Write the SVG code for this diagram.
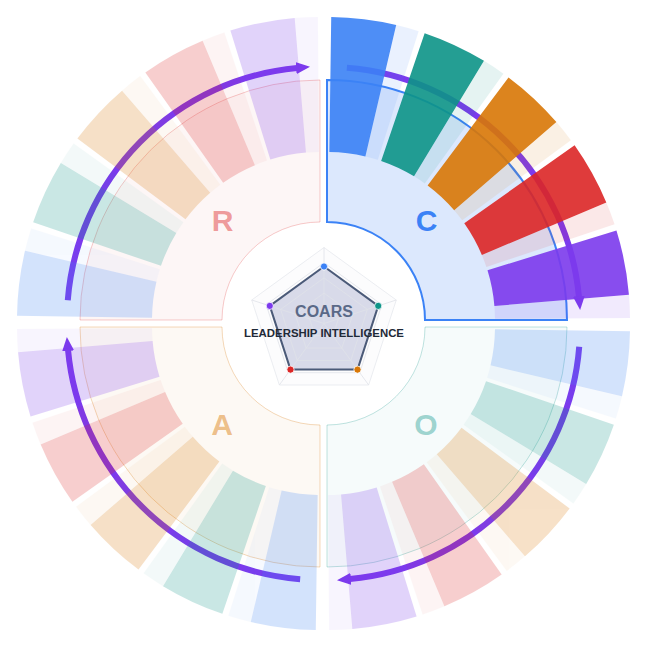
<svg xmlns="http://www.w3.org/2000/svg" xmlns:xlink="http://www.w3.org/1999/xlink" width="648" height="648" viewBox="0 0 648 648">
<style>
.blue{fill:#3b82f6}.teal{fill:#0d9488}.orange{fill:#d97706}.red{fill:#dc2626}.purple{fill:#7c3aed}
.letter{font-family:"Liberation Sans",Arial,sans-serif;font-weight:bold;font-size:30px;text-anchor:middle}
.arc{fill:none;stroke:#7c3aed;stroke-width:6;marker-end:url(#head)}
.grid{fill:none;stroke:#dfe2e8;stroke-width:0.8}
.dot{stroke:#ffffff;stroke-width:0.8}
</style>
<defs>
<path id="sector" d="M0,-240 A240,240 0 0 1 240,0 L98,0 A98,98 0 0 0 0,-98 Z"/>
<g id="bars-dark">
<path class="blue" d="M4.23,-302.97 A303,303 0 0 1 69.19,-294.99 L38.36,-163.56 A168,168 0 0 0 2.35,-167.98 Z"/>
<path class="teal" d="M97.65,-286.84 A303,303 0 0 1 156.96,-259.18 L87.03,-143.70 A168,168 0 0 0 54.14,-159.04 Z"/>
<path class="orange" d="M181.50,-242.62 A303,303 0 0 1 229.37,-197.99 L127.18,-109.78 A168,168 0 0 0 100.64,-134.52 Z"/>
<path class="red" d="M247.60,-174.66 A303,303 0 0 1 279.32,-117.42 L154.87,-65.10 A168,168 0 0 0 137.28,-96.84 Z"/>
<path class="purple" d="M289.45,-89.60 A303,303 0 0 1 301.94,-25.35 L167.41,-14.06 A168,168 0 0 0 160.49,-49.68 Z"/>
</g>
<g id="bars-light">
<path class="blue" d="M69.19,-294.99 A303,303 0 0 1 91.62,-288.82 L50.80,-160.14 A168,168 0 0 0 38.36,-163.56 Z"/>
<path class="teal" d="M156.96,-259.18 A303,303 0 0 1 176.38,-246.37 L97.80,-136.60 A168,168 0 0 0 87.03,-143.70 Z"/>
<path class="orange" d="M229.37,-197.99 A303,303 0 0 1 243.88,-179.81 L135.22,-99.69 A168,168 0 0 0 127.18,-109.78 Z"/>
<path class="red" d="M279.32,-117.42 A303,303 0 0 1 287.51,-95.64 L159.41,-53.03 A168,168 0 0 0 154.87,-65.10 Z"/>
<path class="purple" d="M301.94,-25.35 A303,303 0 0 1 302.99,-2.12 L168.00,-1.17 A168,168 0 0 0 167.41,-14.06 Z"/>
</g>
<marker id="head" markerUnits="userSpaceOnUse" viewBox="0 0 14 12" markerWidth="14" markerHeight="12" refX="1" refY="6" orient="auto">
<path d="M0,0 L14,6 L0,12 Z" fill="#7c3aed"/>
</marker>
</defs>
<rect width="648" height="648" fill="#ffffff"/>

<g id="node-C">
<use href="#sector" transform="translate(327,320)" fill="#3b82f6" fill-opacity="0.18" stroke="#3b82f6" stroke-width="2"/>
<text class="letter" x="426.5" y="230.5" fill="#3b82f6">C</text>
</g>
<g id="node-O">
<use href="#sector" transform="translate(327,327) rotate(90)" fill="#0d9488" fill-opacity="0.035" stroke="#0d9488" stroke-opacity="0.26" stroke-width="1"/>
<text class="letter" x="426" y="434.5" fill="#0d9488" fill-opacity="0.4">O</text>
</g>
<g id="node-A">
<use href="#sector" transform="translate(320,327) rotate(180)" fill="#d97706" fill-opacity="0.045" stroke="#d97706" stroke-opacity="0.28" stroke-width="1"/>
<text class="letter" x="222" y="435" fill="#d97706" fill-opacity="0.45">A</text>
</g>
<g id="node-R">
<use href="#sector" transform="translate(320,320) rotate(270)" fill="#dc2626" fill-opacity="0.045" stroke="#dc2626" stroke-opacity="0.24" stroke-width="1"/>
<text class="letter" x="222.5" y="230.5" fill="#dc2626" fill-opacity="0.46">R</text>
</g>

<g id="connectors">
<path class="arc" transform="translate(327,320)" d="M19.85,-252.22 A253,253 0 0 1 251.96,-22.93"/>
<path class="arc" transform="translate(327,327) rotate(90)" d="M19.85,-252.22 A253,253 0 0 1 251.96,-22.93"/>
<path class="arc" transform="translate(320,327) rotate(180)" d="M19.85,-252.22 A253,253 0 0 1 251.96,-22.93"/>
<path class="arc" transform="translate(320,320) rotate(270)" d="M19.85,-252.22 A253,253 0 0 1 251.96,-22.93"/>
</g>

<g id="bars-C" transform="translate(327,320)">
<use href="#bars-dark" opacity="0.9"/>
<use href="#bars-light" opacity="0.1"/>
</g>
<g id="bars-O" transform="translate(327,327) rotate(90)">
<use href="#bars-dark" opacity="0.22"/>
<use href="#bars-light" opacity="0.045"/>
</g>
<g id="bars-A" transform="translate(320,327) rotate(180)">
<use href="#bars-dark" opacity="0.22"/>
<use href="#bars-light" opacity="0.045"/>
</g>
<g id="bars-R" transform="translate(320,320) rotate(270)">
<use href="#bars-dark" opacity="0.22"/>
<use href="#bars-light" opacity="0.045"/>
</g>

<g id="center" transform="translate(324,323.5)">
<polygon points="0,-76 72.28,-23.49 44.67,61.49 -44.67,61.49 -72.28,-23.49" fill="#fcfcfd" stroke="#e6e8ee" stroke-width="0.8"/>
<polygon class="grid" points="0,-60.8 57.82,-18.79 35.74,49.19 -35.74,49.19 -57.82,-18.79"/>
<polygon points="0,-57 54.21,-17.61 33.50,46.11 -33.50,46.11 -54.21,-17.61" fill="#5d66a3" fill-opacity="0.22"/>
<polygon class="grid" points="0,-45.6 43.37,-14.09 26.80,36.89 -26.80,36.89 -43.37,-14.09" stroke="#bcc1d2"/>
<polygon class="grid" points="0,-30.4 28.91,-9.39 17.87,24.59 -17.87,24.59 -28.91,-9.39" stroke="#bcc1d2"/>
<polygon class="grid" points="0,-15.2 14.46,-4.70 8.93,12.30 -8.93,12.30 -14.46,-4.70" stroke="#bcc1d2"/>
<path class="grid" stroke="#c8ccd8" d="M0,0 L0,-76 M0,0 L72.28,-23.49 M0,0 L44.67,61.49 M0,0 L-44.67,61.49 M0,0 L-72.28,-23.49"/>
<polygon points="0,-57 54.21,-17.61 33.50,46.11 -33.50,46.11 -54.21,-17.61" fill="none" stroke="#4b5a78" stroke-width="2" stroke-linejoin="round"/>
<circle class="dot blue" cx="0" cy="-57" r="3.6"/>
<circle class="dot teal" cx="54.21" cy="-17.61" r="3.6"/>
<circle class="dot orange" cx="33.50" cy="46.11" r="3.6"/>
<circle class="dot red" cx="-33.50" cy="46.11" r="3.6"/>
<circle class="dot purple" cx="-54.21" cy="-17.61" r="3.6"/>
<text x="0" y="-6.3" text-anchor="middle" font-family="'Liberation Sans',Arial,sans-serif" font-weight="bold" font-size="16" fill="#5a6987">COARS</text>
<text x="0" y="13.2" text-anchor="middle" font-family="'Liberation Sans',Arial,sans-serif" font-weight="bold" font-size="11.4" fill="#1f2937">LEADERSHIP INTELLIGENCE</text>
</g>
</svg>
